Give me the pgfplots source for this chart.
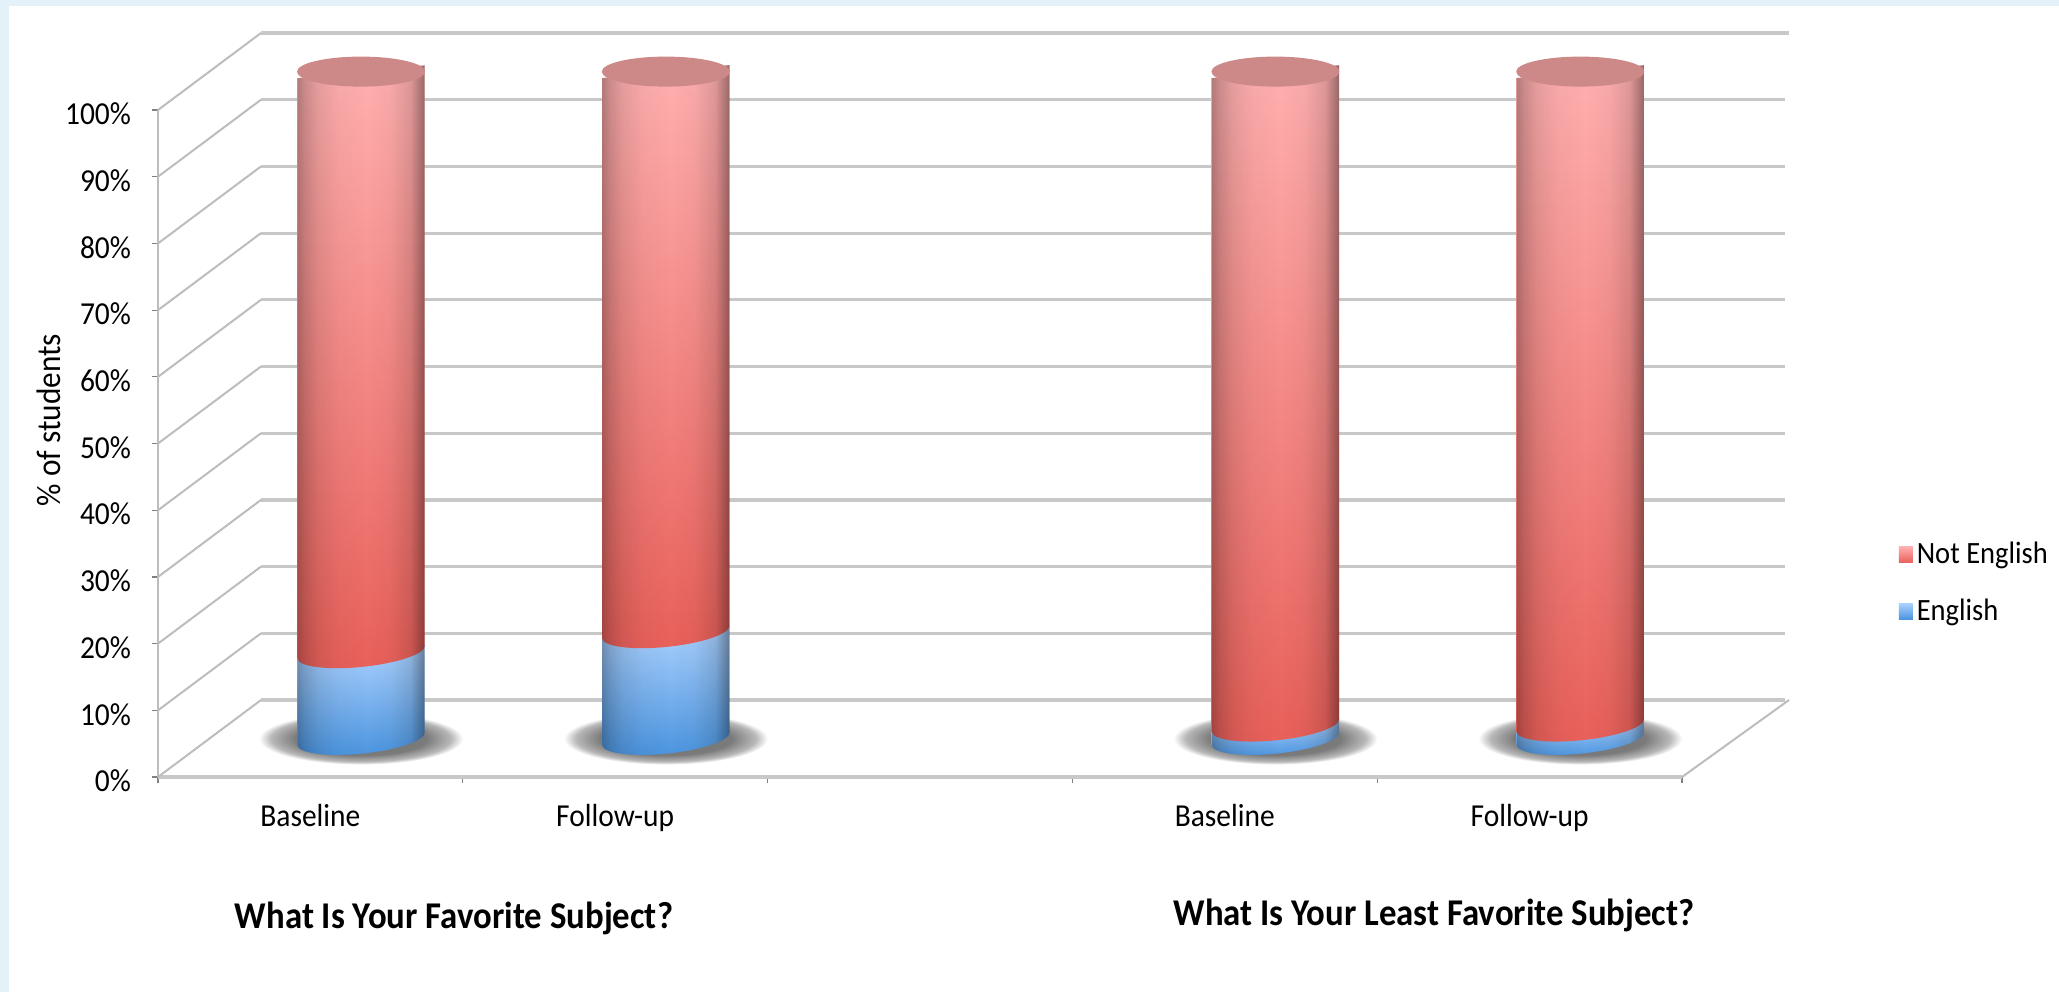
\documentclass[border=0pt]{standalone}
\usepackage{fontspec}
\setmainfont{Carlito}[FakeStretch=0.92]
\usepackage{pgfplots}
\usepackage{pgfplotstable}
\pgfplotsset{compat=1.18}
\usetikzlibrary{fadings}

\definecolor{pagebg}{HTML}{E3F1F8}
\definecolor{wallgray}{HTML}{C8C8C8}
\definecolor{diaggray}{HTML}{BDBDBD}
\definecolor{redtop}{HTML}{FFB0B0}
\definecolor{redbot}{HTML}{E9605A}
\definecolor{bluetop}{HTML}{ACD2FF}
\definecolor{bluebot}{HTML}{4A94DF}
\definecolor{capcol}{HTML}{CD8888}

% 1 px of the reference = 0.5pt
\def\pxu{0.5pt}
\def\tilt{5.8}

\pgfdeclarehorizontalshading{cyledgesh}{100bp}{%
  rgb(0bp)=(.3,.3,.3); rgb(25bp)=(.3,.3,.3); rgb(28bp)=(.2,.2,.2); rgb(33bp)=(.1,.1,.1);
  rgb(41bp)=(.03,.03,.03); rgb(52bp)=(0,0,0); rgb(61bp)=(.03,.03,.03);
  rgb(69bp)=(.13,.13,.13); rgb(75bp)=(.42,.42,.42); rgb(100bp)=(.42,.42,.42)}
\pgfdeclarefading{cyledge}{\pgfuseshading{cyledgesh}}
\pgfdeclareradialshading{floorshadow}{\pgfpointorigin}{%
  color(0bp)=(black!55); color(16bp)=(black!52); color(22bp)=(black!28); color(25bp)=(white); color(50bp)=(white)}

\newcommand{\cylshape}{%
    ([rotate=\tilt]-32pt,0pt) -- ([yshift=-\segh,rotate=\tilt]-32pt,0pt)
    .. controls ([yshift=-\segh,rotate=\tilt]-32pt,-4.14pt) and ([yshift=-\segh,rotate=\tilt]-17.67pt,-7.5pt)
    .. ([yshift=-\segh,rotate=\tilt]0pt,-7.5pt)
    .. controls ([yshift=-\segh,rotate=\tilt]17.67pt,-7.5pt) and ([yshift=-\segh,rotate=\tilt]32pt,-4.14pt)
    .. ([yshift=-\segh,rotate=\tilt]32pt,0pt) -- ([rotate=\tilt]32pt,0pt) -- cycle}

% one stacked segment, (0,0) is the middle of its upper end
\newcommand{\cylseg}[3]{%
  \begin{scope}
  \pgftransformshift{\pgfpoint{25.3pt}{19.2pt}}
  \pgfmathsetlengthmacro{\segh}{\segv*3.335}
  #3
  \path[draw=none,top color=#1,bottom color=#2] \cylshape;
  \path[draw=none,fill=black,path fading=cyledge,fit fading=true] \cylshape;
  \end{scope}
}

\pgfplotstableread{
x English NotEnglish
0.5 13 87
1.5 16 84
3.5 2 98
4.5 2 98
}\subjects

\begin{document}
\begin{tikzpicture}
\fill[white] (0,0) rectangle (2059*\pxu,-992*\pxu);
\fill[pagebg] (0,0) rectangle (2059*\pxu,-6*\pxu);
\fill[pagebg] (0,0) rectangle (9*\pxu,-992*\pxu);
\begin{axis}[
  at={(158*\pxu,-777*\pxu)}, anchor=south west,
  scale only axis, width=762pt, height=333.5pt,
  clip=false, stack plots=y, reverse stacked plots=false,
  xmin=0, xmax=5, ymin=0, ymax=100,
  axis x line*=bottom, axis y line*=left,
  x axis line style={-,draw=wallgray,line width=1.6pt},
  y axis line style={-,draw=diaggray,line width=1.1pt},
  xtick={0,1,2,3,4,5}, xticklabels={},
  extra x ticks={0.5,1.5,3.5,4.5},
  extra x tick labels={Baseline,Follow-up,Baseline,Follow-up},
  extra x tick style={major tick length=0pt,xticklabel style={yshift=-10pt}},
  ytick={0,10,...,100},
  yticklabels={0\%,10\%,20\%,30\%,40\%,50\%,60\%,70\%,80\%,90\%,100\%},
  yticklabel style={xshift=-7pt,yshift=-2pt},
  tick align=outside, major tick length=3pt,
  tick style={draw=black!50,line width=.6pt},
  tick label style={font=\fontsize{16}{18}\selectfont},
  ymajorgrids,
  grid style={xshift=51.5pt,yshift=38.5pt,draw=wallgray,line width=1.6pt,shorten >=-2pt},
  every axis y label/.style={at={(rel axis cs:-0.0715,0.535)},rotate=90,anchor=center},
  ylabel={\% of students},
  label style={font=\fontsize{17}{19}\selectfont},
  legend style={at={(rel axis cs:1.142,0.291)},anchor=west,draw=none,fill=none,
    font=\fontsize{15.5}{17}\selectfont,row sep=12pt,inner sep=0pt},
  legend cell align=left, reverse legend,
  area legend,
  every axis plot/.append style={only marks,scatter,mark size=0pt},
]
\pgfplotsinvokeforeach{0,10,...,100}{
  \draw[diaggray,line width=1pt] (axis cs:0,#1) -- ++(51.5pt,38.5pt);
}
\draw[diaggray,line width=1pt] (axis cs:5,0) -- ++(53.5pt,38.5pt);

\addplot[
  visualization depends on={rawy\as\segv},
  scatter/@pre marker code/.code={\cylseg{bluetop}{bluebot}{%
    \path[draw=none,shading=floorshadow,rotate=8] (0pt,-\segh) ellipse [x radius=51pt,y radius=13pt];}},
  scatter/@post marker code/.code={},
  legend image code/.code={\path[draw=none,top color=bluetop,bottom color=bluebot] (0pt,-4pt) rectangle (7pt,4pt);},
] table [x=x,y=English] {\subjects};
\addlegendentry{English}

\addplot[
  visualization depends on={rawy\as\segv},
  scatter/@pre marker code/.code={\cylseg{redtop}{redbot}{}%
    \begin{scope}
    \pgftransformshift{\pgfpoint{25.3pt}{19.2pt}}
    \path[draw=none,fill=capcol,rotate=\tilt] (0,0) ellipse [x radius=32pt,y radius=7.5pt];
    \end{scope}},
  scatter/@post marker code/.code={},
  legend image code/.code={\path[draw=none,top color=redtop,bottom color=redbot] (0pt,-4pt) rectangle (7pt,4pt);},
] table [x=x,y=NotEnglish] {\subjects};
\addlegendentry{Not English}
\end{axis}
\node[font=\bfseries\fontsize{18.9}{20}\selectfont] at (454*\pxu,-918*\pxu) {What Is Your Favorite Subject?};
\node[font=\bfseries\fontsize{18.9}{20}\selectfont] at (1434*\pxu,-915*\pxu) {What Is Your Least Favorite Subject?};
\pgfresetboundingbox
\path[use as bounding box] (0,0) rectangle (2059*\pxu,-992*\pxu);
\end{tikzpicture}
\end{document}
